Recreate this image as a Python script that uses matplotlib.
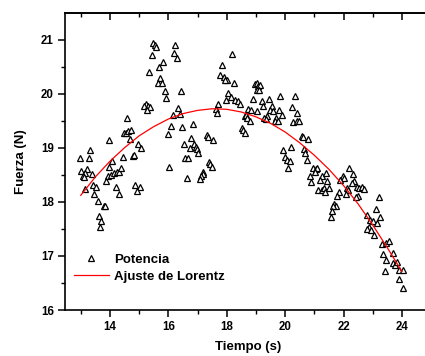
import numpy as np
import matplotlib
matplotlib.use('Agg')
import matplotlib.pyplot as plt
from matplotlib.ticker import MultipleLocator, NullFormatter

plt.rcParams['font.family'] = ['Liberation Sans', 'DejaVu Sans']
plt.rcParams['font.weight'] = 'bold'

# measured points (Potencia)
tiempo = [15.48, 15.53, 15.58, 16.23, 15.44, 16.18, 16.28, 18.18, 15.83, 15.69,
          15.34, 15.72, 15.64, 15.78, 15.88, 16.43, 15.93, 17.85, 17.78, 17.89,
          18.02, 17.94, 18.24, 18.04, 17.98, 18.14, 18.29, 18.39, 18.44, 17.70,
          17.62, 17.65, 18.62, 15.23, 15.16, 15.30, 15.38, 15.26, 16.34, 16.15,
          16.39, 14.57, 16.09, 16.48, 16.83, 15.99, 14.49, 14.55, 14.63, 14.73,
          14.67, 13.98, 14.97, 15.07, 16.79, 17.32, 17.37, 17.54, 16.53, 16.88,
          16.96, 16.74, 16.98, 17.03, 13.32, 12.97, 13.27, 14.43, 14.78, 14.82,
          14.07, 16.57, 16.68, 16.03, 17.38, 17.44, 17.49, 13.01, 13.22, 13.15,
          13.06, 13.38, 13.11, 13.98, 13.93, 14.05, 14.15, 14.23, 14.30, 14.38,
          13.87, 17.17, 17.19, 17.13, 17.08, 16.64, 13.13, 13.43, 13.52, 14.22,
          14.87, 15.03, 14.94, 14.32, 13.47, 13.58, 13.78, 13.84, 13.61, 13.71,
          13.67,
          18.97, 19.02, 19.08, 19.14, 19.05, 19.10, 18.74, 18.82, 18.65, 18.70,
          18.79, 18.51, 18.57, 18.61, 18.89, 19.05, 19.19, 19.25, 19.46, 19.54,
          19.48, 19.59, 19.37, 19.27, 19.34, 19.68, 19.65, 19.76, 19.80, 19.88,
          19.84, 20.34, 20.24, 20.39, 20.28, 20.39, 20.48, 20.56, 20.62, 20.79,
          20.20, 19.94, 19.99, 20.05, 20.16, 20.11, 20.64, 20.69, 20.74, 20.96,
          21.05, 21.10, 21.02, 20.85, 21.25, 21.19, 21.40, 21.44, 20.89, 21.13,
          21.25, 21.33, 21.36, 21.51, 21.97, 22.01, 21.88, 22.20, 22.31, 22.36,
          22.28, 22.11, 22.16, 22.08, 21.83, 21.79, 22.45, 22.54, 22.62, 22.70,
          22.50, 22.42, 21.67, 21.74, 21.63, 21.60, 21.56, 23.21, 23.11, 23.25,
          22.81, 22.90, 23.00, 23.13, 22.87, 22.79, 22.93, 23.05, 23.30, 23.47,
          23.56, 23.68, 23.36, 23.45, 23.70, 23.76, 23.82, 23.91, 24.02, 23.41,
          23.91, 24.02]
fuerza = [20.93, 20.90, 20.87, 20.90, 20.72, 20.75, 20.66, 20.74, 20.59, 20.49,
          20.40, 20.28, 20.20, 20.20, 20.05, 20.05, 19.91, 20.53, 20.35, 20.31,
          20.26, 20.25, 20.20, 20.02, 19.88, 19.93, 19.88, 19.86, 19.81, 19.80,
          19.72, 19.65, 19.59, 19.81, 19.77, 19.77, 19.75, 19.69, 19.73, 19.60,
          19.62, 19.55, 19.40, 19.38, 19.44, 19.25, 19.27, 19.27, 19.31, 19.32,
          19.17, 19.15, 19.07, 18.99, 19.18, 19.24, 19.19, 19.15, 19.07, 19.07,
          19.02, 18.99, 18.98, 18.90, 18.96, 18.81, 18.81, 18.83, 18.85, 18.86,
          18.75, 18.81, 18.81, 18.64, 18.73, 18.69, 18.65, 18.57, 18.60, 18.54,
          18.47, 18.51, 18.46, 18.64, 18.47, 18.49, 18.53, 18.55, 18.56, 18.62,
          18.38, 18.56, 18.52, 18.47, 18.43, 18.44, 18.24, 18.31, 18.28, 18.27,
          18.31, 18.27, 18.20, 18.14, 18.14, 18.02, 17.93, 17.93, 17.73, 17.65,
          17.54,
          20.17, 20.19, 20.14, 20.15, 20.07, 20.06, 19.72, 19.70, 19.61, 19.55,
          19.49, 19.36, 19.33, 19.28, 19.90, 19.67, 19.86, 19.78, 19.90, 19.78,
          19.69, 19.67, 19.58, 19.55, 19.53, 19.55, 19.49, 19.49, 19.70, 19.61,
          19.96, 19.95, 19.75, 19.64, 19.48, 19.49, 19.49, 19.22, 19.20, 19.16,
          19.02, 18.96, 18.83, 18.77, 18.75, 18.62, 18.98, 18.90, 18.78, 18.62,
          18.60, 18.62, 18.56, 18.48, 18.48, 18.41, 18.54, 18.38, 18.36, 18.22,
          18.22, 18.25, 18.18, 18.25, 18.48, 18.44, 18.40, 18.62, 18.52, 18.38,
          18.35, 18.25, 18.21, 18.15, 18.19, 18.10, 18.28, 18.25, 18.27, 18.23,
          18.10, 18.08, 17.96, 17.93, 17.93, 17.83, 17.72, 18.09, 17.86, 17.72,
          17.76, 17.67, 17.64, 17.60, 17.54, 17.49, 17.48, 17.39, 17.22, 17.23,
          17.27, 17.05, 17.04, 16.93, 16.86, 16.83, 16.88, 16.74, 16.74, 16.72,
          16.57, 16.40]

# Lorentz fit curve
ajuste_t = [13.0, 13.5, 14.0, 14.5, 15.0, 15.5, 16.0, 16.5, 17.0, 17.5, 18.0,
            18.5, 19.0, 19.5, 20.0, 20.5, 21.0, 21.5, 22.0, 22.5, 23.0, 23.5, 24.0]
ajuste_f = [18.12, 18.46, 18.75, 19.00, 19.22, 19.39, 19.53, 19.63, 19.69, 19.72,
            19.71, 19.66, 19.57, 19.45, 19.29, 19.09, 18.86, 18.60, 18.30, 17.96,
            17.57, 17.15, 16.71]

fig = plt.figure(figsize=(4.25, 3.56), dpi=100)
ax = fig.add_axes([0.1529, 0.1292, 0.8616, 0.8343])

ax.plot(tiempo, fuerza, linestyle='none', marker='^', markersize=4.2,
        markerfacecolor='white', markeredgecolor='black', markeredgewidth=0.9,
        label='Potencia')
ax.plot(ajuste_t, ajuste_f, color='red', linewidth=0.9, label='Ajuste de Lorentz')

ax.set_xlim(12.46, 25)
ax.set_ylim(16, 21.49)
ax.xaxis.set_major_locator(MultipleLocator(2))
ax.xaxis.set_minor_locator(MultipleLocator(1))
ax.yaxis.set_major_locator(MultipleLocator(1))
ax.yaxis.set_minor_locator(MultipleLocator(0.5))

for s in ax.spines.values():
    s.set_linewidth(1.2)

ax.tick_params(axis='both', which='major', direction='out', length=5, width=1.1,
               labelsize=8.3, pad=3)
ax.tick_params(axis='both', which='minor', direction='out', length=3, width=1.0)

# inward ticks on the top edge, no labels
top = ax.secondary_xaxis('top')
top.xaxis.set_major_locator(MultipleLocator(2))
top.xaxis.set_minor_locator(MultipleLocator(1))
top.xaxis.set_major_formatter(NullFormatter())
top.tick_params(which='major', direction='in', length=5, width=1.1)
top.tick_params(which='minor', direction='in', length=3, width=1.0)
top.spines['top'].set_linewidth(1.2)

ax.set_xlabel('Tiempo (s)', fontsize=9.5, fontweight='bold', labelpad=6)
ax.set_ylabel('Fuerza (N)', fontsize=9.5, fontweight='bold', labelpad=10)

leg = ax.legend(loc='lower left', bbox_to_anchor=(0.0, 0.06), frameon=False,
                fontsize=9.5, handlelength=2.6, handletextpad=0.4,
                labelspacing=0.35, borderaxespad=0.3)

fig.savefig('out.png', dpi=100)
